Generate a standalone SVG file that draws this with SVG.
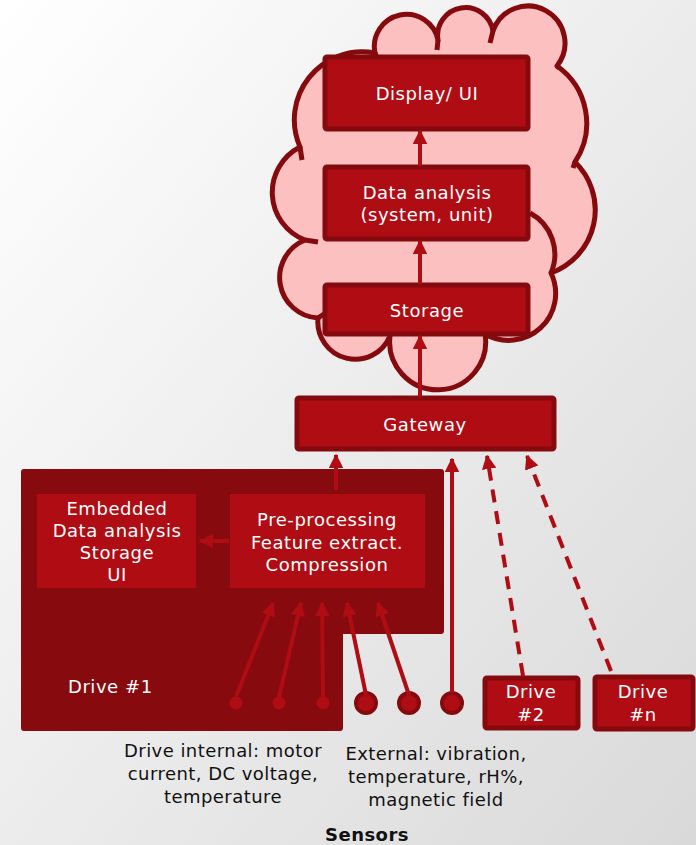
<svg xmlns="http://www.w3.org/2000/svg" width="696" height="845" viewBox="0 0 696 845">
<defs>
<linearGradient id="bg" x1="0" y1="0" x2="1" y2="1">
<stop offset="0" stop-color="#ffffff"/>
<stop offset="1" stop-color="#d9d9d9"/>
</linearGradient>
<marker id="ah" viewBox="0 0 10 10" refX="9" refY="5" markerWidth="3.6" markerHeight="3.6" orient="auto" markerUnits="strokeWidth">
<path d="M0,0 L10,5 L0,10 z" fill="#b00c14"/>
</marker>
<style>
.box{fill:#b00c14;stroke:#850a0e;stroke-width:5}
.ibox{fill:#b00c14}
.t{font-family:"DejaVu Sans",Verdana,sans-serif;font-size:18px;letter-spacing:0.55px;fill:#ffffff;text-anchor:middle}
.lab{font-family:"DejaVu Sans",Verdana,sans-serif;font-size:18px;letter-spacing:0.45px;fill:#111111;text-anchor:middle}
.ar{stroke:#b00c14;stroke-width:4;fill:none;marker-end:url(#ah)}
.da{stroke:#b00c14;stroke-width:4;fill:none;stroke-dasharray:13 9;marker-end:url(#ah)}
.cl{fill:#fcc0c0;stroke:#850a0e;stroke-width:5;stroke-linejoin:round}
.st{fill:none;stroke:#850a0e;stroke-width:5}
</style>
</defs>
<rect x="0" y="0" width="696" height="845" fill="url(#bg)"/>

<g id="cloud">
<path class="cl" d="M300,147 A68,68 0 0 1 375,53 A32,32 0 0 1 438,40 A27,27 0 0 1 493,31 A37,37 0 1 1 557,66 A70,70 0 0 1 575,162 A67,67 0 0 1 551,273 A47,47 0 0 1 485,334 A48,48 0 1 1 390,336 A37.5,37.5 0 0 1 318,318 A40.5,40.5 0 0 1 305,240 A51,51 0 0 1 300,147 Z"/>
<path class="st" d="M300,147 L302,160"/>
<path class="st" d="M305,240 L318,242"/>
<path class="st" d="M318,318 L324,314"/>
<path class="st" d="M375,53 L377,58"/>
<path class="st" d="M438,40 L437,50"/>
<path class="st" d="M493,31 L490,43"/>
<path class="st" d="M557,66 L559,68"/>
<path class="st" d="M575,162 L573,168"/>
<path class="st" d="M530,213 A47,47 0 0 1 551,273"/>
</g>

<g id="display">
<rect class="box" x="325" y="57" width="203" height="72" rx="2"/>
<text class="t" x="427" y="100">Display/ UI</text>
</g>
<g id="analysis">
<rect class="box" x="325" y="167" width="203" height="72" rx="2"/>
<text class="t" x="427" y="199">Data analysis</text>
<text class="t" x="427" y="221">(system, unit)</text>
</g>
<g id="storage">
<rect class="box" x="325" y="285" width="203" height="49" rx="2"/>
<text class="t" x="427" y="317">Storage</text>
</g>
<g id="gateway">
<rect class="box" x="297" y="398" width="257" height="51" rx="2"/>
<text class="t" x="425" y="431">Gateway</text>
</g>

<g id="drive1">
<path d="M24,469 L441,469 Q444,469 444,472 L444,631 Q444,634 441,634 L343,634 L343,728 Q343,731 340,731 L24,731 Q21,731 21,728 L21,472 Q21,469 24,469 Z" fill="#870a0f"/>
<text x="68" y="693" font-family="DejaVu Sans, Verdana, sans-serif" font-size="18" letter-spacing="0.55" fill="#ffffff">Drive #1</text>
</g>
<g id="embedded">
<rect class="ibox" x="37" y="494" width="159" height="94"/>
<text class="t" x="117" y="515">Embedded</text>
<text class="t" x="117" y="537">Data analysis</text>
<text class="t" x="117" y="559">Storage</text>
<text class="t" x="117" y="581">UI</text>
</g>
<g id="preprocessing">
<rect class="ibox" x="230" y="494" width="195" height="94"/>
<text class="t" x="327" y="526">Pre-processing</text>
<text class="t" x="327" y="549">Feature extract.</text>
<text class="t" x="327" y="571">Compression</text>
</g>

<g id="drive2">
<rect class="box" x="485" y="678" width="93" height="50" rx="2"/>
<text class="t" x="531" y="698">Drive</text>
<text class="t" x="531" y="721">#2</text>
</g>
<g id="driven">
<rect class="box" x="595" y="677" width="98" height="52" rx="2"/>
<text class="t" x="643" y="698">Drive</text>
<text class="t" x="643" y="721">#n</text>
</g>

<g id="sensors">
<circle cx="236" cy="703" r="6.5" fill="#b00c14"/>
<circle cx="279" cy="703" r="6.5" fill="#b00c14"/>
<circle cx="323" cy="703" r="6.5" fill="#b00c14"/>
<circle cx="366" cy="703" r="10" fill="#b00c14" stroke="#850a0e" stroke-width="4"/>
<circle cx="409" cy="703" r="10" fill="#b00c14" stroke="#850a0e" stroke-width="4"/>
<circle cx="452" cy="703" r="10" fill="#b00c14" stroke="#850a0e" stroke-width="4"/>
</g>

<g id="connectors">
<line class="ar" x1="420" y1="166" x2="420" y2="131"/>
<line class="ar" x1="420" y1="284" x2="420" y2="241"/>
<line class="ar" x1="420" y1="397" x2="420" y2="336"/>
<line class="ar" x1="336" y1="490" x2="336" y2="455"/>
<line class="ar" x1="229" y1="541" x2="200" y2="541"/>
<line class="ar" x1="236" y1="697" x2="273" y2="603"/>
<line class="ar" x1="279" y1="697" x2="301" y2="603"/>
<line class="ar" x1="323" y1="697" x2="322" y2="603"/>
<line class="ar" x1="366" y1="695" x2="347" y2="603"/>
<line class="ar" x1="409" y1="695" x2="378" y2="603"/>
<line class="ar" x1="452" y1="693" x2="452" y2="459"/>
<line class="da" x1="523" y1="676" x2="487" y2="456"/>
<line class="da" x1="611" y1="671" x2="527" y2="456"/>
</g>

<g id="labels">
<text class="lab" x="223" y="757">Drive internal: motor</text>
<text class="lab" x="223" y="780">current, DC voltage,</text>
<text class="lab" x="223" y="803">temperature</text>
<text class="lab" x="436" y="760">External: vibration,</text>
<text class="lab" x="436" y="783">temperature, rH%,</text>
<text class="lab" x="436" y="806">magnetic field</text>
<text class="lab" x="367" y="841" font-weight="bold">Sensors</text>
</g>
</svg>
